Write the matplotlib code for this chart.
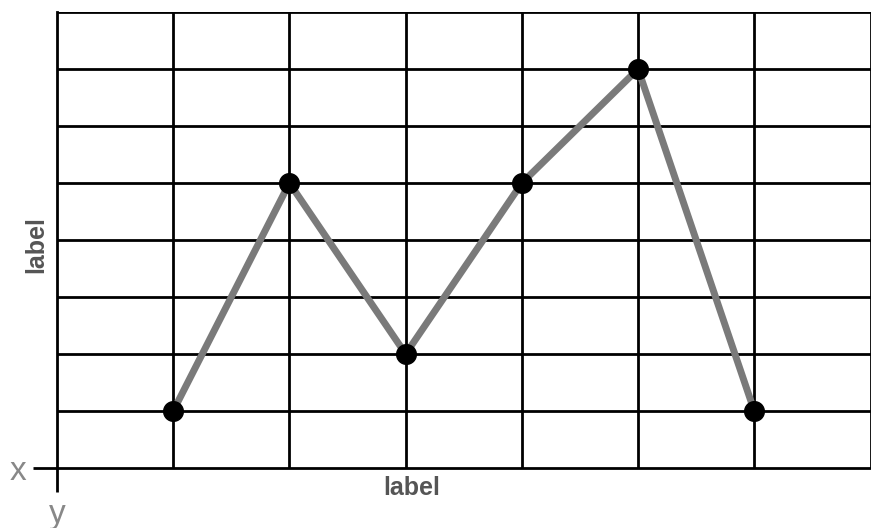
import matplotlib
matplotlib.use("Agg")
import matplotlib.pyplot as plt

x_vals = [1, 2, 3, 4, 5, 6]
y_vals = [1, 5, 2, 5, 7, 1]
x_tick_labels = ["y"]
y_tick_labels = ["x"]

plt.rcParams['font.family'] = ['Liberation Sans', 'DejaVu Sans']

W, H = 871, 528
fig = plt.figure(figsize=(W/100, H/100), dpi=100)
ax = fig.add_axes([57/W, 60/H, 813.5/W, 456/H])
ax.set_xlim(0, 7)
ax.set_ylim(0, 8)

ax.set_xticks([0])
ax.set_xticklabels(x_tick_labels)
ax.set_yticks([0])
ax.set_yticklabels(y_tick_labels)
ax.set_xticks(range(1, 8), minor=True)
ax.set_yticks(range(1, 9), minor=True)
ax.tick_params(which='minor', length=0)
ax.tick_params(which='major', length=17, width=2, color='black',
               labelsize=24, labelcolor='#888888')
ax.tick_params(axis='y', which='major', pad=5)
ax.tick_params(axis='x', which='major', pad=5)
ax.grid(True, which='minor', color='black', linewidth=2)

for s in ['top', 'right']:
    ax.spines[s].set_visible(False)
for s in ['left', 'bottom']:
    ax.spines[s].set_linewidth(2)
    ax.spines[s].set_color('black')

ax.plot(x_vals, y_vals, color='#7a7a7a', linewidth=5, zorder=3, clip_on=False)
ax.scatter(x_vals, y_vals, s=200, color='black', zorder=4, clip_on=False)

fig.text(412/W, 1 - 495/H, 'label', fontsize=18, fontweight='bold', color='#555555',
         ha='center', va='baseline')
fig.text(43/W, 1 - 245/H, 'label', fontsize=18, fontweight='bold', color='#555555',
         ha='center', va='baseline', rotation=90, rotation_mode='anchor')

fig.savefig('out.png', dpi=100)
